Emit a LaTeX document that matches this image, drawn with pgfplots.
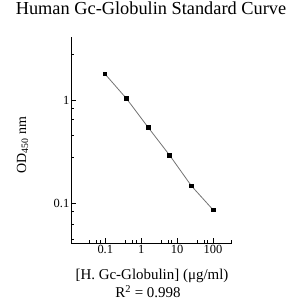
\documentclass[border=0pt]{standalone}
\usepackage{pgfplots}
\pgfplotsset{compat=1.18}
\usepackage{fontspec}
\setmainfont{Liberation Serif}
\begin{document}
\begin{tikzpicture}
\path[use as bounding box] (0,0) rectangle (300bp,-300bp);
\begin{axis}[
  at={(71bp,-243.3bp)}, anchor=south west,
  scale only axis, width=160.7bp, height=206bp,
  xmode=log, ymode=log,
  xmin=0.0111, xmax=331, ymin=0.041, ymax=4.1,
  axis lines=left, axis line style={-, black, line width=0.6pt},
  xtick={0.1,1,10,100}, xticklabels={0.1,1,10,100},
  ytick={0.1,1}, yticklabels={0.1,1},
  minor xtick={0.037,0.057,0.071,0.37,0.57,0.71,3.7,5.7,7.1,37,57,71,331},
  minor ytick={0.045,0.063,0.083,0.28,0.46,0.65,0.83,2.8},
  tick align=inside, major tick length=5bp, minor tick length=3bp,
  tick style={black, line width=0.6pt},
  xticklabel style={font=\fontsize{12.5}{14}\selectfont, inner sep=1bp, yshift=-1bp},
  yticklabel style={font=\fontsize{12.5}{14}\selectfont, inner sep=1.5bp},
  clip=false,
]
\addplot[color=black!55, line width=0.8pt, mark=square*, mark size=1.9bp,
  mark options={fill=black, draw=black, solid}]
  coordinates {(0.0977,1.81) (0.391,1.04) (1.5625,0.547) (6.25,0.292) (25,0.148) (100,0.0867)};
\end{axis}
\node[anchor=base, font=\fontsize{18.4}{20}\selectfont] at (151bp,-14bp) {Human Gc-Globulin Standard Curve};
\node[anchor=base, font=\fontsize{15}{17}\selectfont] at (152bp,-279bp) {[H. Gc-Globulin] (μg/ml)};
\node[anchor=base, font=\fontsize{15}{17}\selectfont] at (148bp,-297.5bp) {R\textsuperscript{2} = 0.998};
\node[anchor=base, rotate=90, font=\fontsize{14}{16}\selectfont] at (26bp,-145bp) {OD\textsubscript{450} nm};
\end{tikzpicture}
\end{document}
